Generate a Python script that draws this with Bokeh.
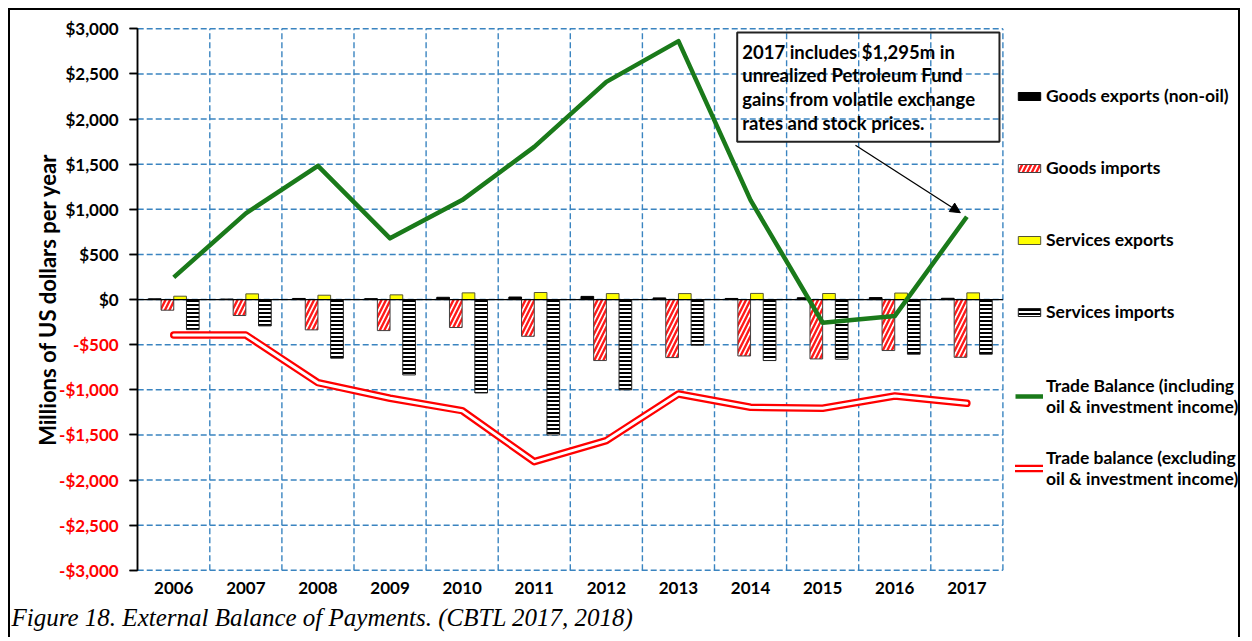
import numpy as np
from bokeh.plotting import figure
from bokeh.models import (ColumnDataSource, FixedTicker, Legend, LegendItem,
                          Label, Arrow, NormalHead, Range1d, LinearAxis)
from bokeh.transform import dodge
from bokeh.embed import file_html
from bokeh.resources import INLINE

# ---------------- data (millions of US$) ----------------
years = ["2006", "2007", "2008", "2009", "2010", "2011",
         "2012", "2013", "2014", "2015", "2016", "2017"]
goods_exports = [8, 5, 12, 10, 25, 28, 35, 18, 12, 20, 22, 14]
goods_imports = [-118, -177, -336, -344, -310, -407, -676, -643, -625, -658, -565, -640]
services_exports = [37, 63, 48, 52, 74, 78, 66, 66, 68, 67, 72, 74]
services_imports = [-333, -292, -650, -835, -1035, -1500, -1000, -506, -676, -661, -606, -606]
trade_incl = [246, 955, 1482, 678, 1102, 1692, 2412, 2863, 1102, -257, -183, 917]
trade_excl = [-393, -393, -921, -1094, -1231, -1796, -1563, -1046, -1194, -1205, -1068, -1150]
y_ticks = list(range(-3000, 3001, 500))

FONT = "Lato"
W, H = 1232, 629
idx = list(range(len(years)))
x0, x1 = -0.5, len(years) - 0.5          # category area
y0, y1 = y_ticks[0], y_ticks[-1]          # value area

# the frame covers the whole canvas; data area sits inside it
PX_X = 72.1                      # px per category
PX_Y = 541.5 / (y1 - y0)         # px per $m
LEFT, TOP = 127.2, 18.3          # data-area offset inside the canvas
xs = x0 - LEFT / PX_X
ys_top = y1 + TOP / PX_Y

src = ColumnDataSource(dict(x=idx, goods_exports=goods_exports, goods_imports=goods_imports,
                            services_exports=services_exports, services_imports=services_imports,
                            trade_incl=trade_incl, trade_excl=trade_excl))

p = figure(width=W, height=H, output_backend="svg", toolbar_location=None,
           x_range=Range1d(xs, xs + W / PX_X), y_range=Range1d(ys_top - H / PX_Y, ys_top),
           x_axis_location=None, y_axis_location=None,
           min_border_left=0, min_border_right=0, min_border_top=0, min_border_bottom=0)
p.styles = {"border-left": "2px solid black", "border-top": "2px solid black",
            "border-right": "2px solid black", "margin-left": "8px", "margin-top": "8px"}
p.outline_line_color = None
p.background_fill_color = "white"
p.border_fill_color = "white"
for g in p.grid:
    g.visible = False

# dashed grid, limited to the data area
GRID = dict(line_color="#3a84c0", line_dash="6 3", line_width=1.4, level="underlay")
vx = [i + 0.5 for i in idx]
p.segment(x0=vx, y0=[y0] * len(vx), x1=vx, y1=[y1] * len(vx), **GRID)
p.segment(x0=[x0] * len(y_ticks), y0=y_ticks, x1=[x1] * len(y_ticks), y1=y_ticks, **GRID)


def money(t):
    return ("-$" if t < 0 else "$") + f"{abs(t):,}"


def make_yaxis(color, keep):
    ax = LinearAxis(fixed_location=x0, bounds=(y0, y1))
    ax.ticker = FixedTicker(ticks=y_ticks)
    ax.axis_line_color = "black"
    ax.axis_line_width = 1.5
    ax.major_tick_line_color = "black"
    ax.major_tick_line_width = 1.5
    ax.major_tick_out = 8
    ax.major_tick_in = 0
    ax.minor_tick_line_color = None
    ax.major_label_standoff = 11
    ax.major_label_text_font = FONT
    ax.major_label_text_font_style = "bold"
    ax.major_label_text_font_size = "17px"
    ax.major_label_text_color = color
    ax.major_label_overrides = {t: (money(t) if keep(t) else "") for t in y_ticks}
    return ax


# positive labels black (with title), negative labels red, same position
ya = make_yaxis("black", lambda t: t >= 0)
ya.axis_label = "Millions of US dollars per year"
ya.axis_label_text_font = FONT
ya.axis_label_text_font_style = "bold"
ya.axis_label_text_font_size = "22px"
ya.axis_label_text_color = "black"
ya.axis_label_standoff = 1
yb = make_yaxis("#ff0000", lambda t: t < 0)
p.add_layout(ya, "left")
p.add_layout(yb, "left")

# x axis at the bottom of the value area
xa = LinearAxis(fixed_location=y0)
xa.ticker = FixedTicker(ticks=idx)
xa.major_label_overrides = {i: y for i, y in zip(idx, years)}
xa.axis_line_color = None
xa.major_tick_line_color = None
xa.minor_tick_line_color = None
xa.major_tick_out = 0
xa.major_tick_in = 0
xa.major_label_standoff = 12
xa.major_label_text_font = FONT
xa.major_label_text_font_style = "bold"
xa.major_label_text_font_size = "17px"
xa.major_label_text_color = "black"
p.add_layout(xa, "below")

# bars
w = 0.176
r_ge = p.vbar(x=dodge("x", -1.5 * w), top="goods_exports", width=w, source=src,
              fill_color="black", line_color="black", line_width=1)
r_gi = p.vbar(x=dodge("x", -0.5 * w), top="goods_imports", width=w, source=src,
              fill_color="white", line_color="#404040", line_width=1,
              hatch_pattern="/", hatch_color="#ff1a1a", hatch_weight=2.4, hatch_scale=9)
r_se = p.vbar(x=dodge("x", 0.5 * w), top="services_exports", width=w, source=src,
              fill_color="#ffff00", line_color="#555533", line_width=1)
r_si = p.vbar(x=dodge("x", 1.5 * w), top="services_imports", width=w, source=src,
              fill_color="white", line_color="#222222", line_width=1,
              hatch_pattern="-", hatch_color="black", hatch_weight=2, hatch_scale=4)

# zero line across the value area
p.segment(x0=[x0], y0=[0], x1=[x1], y1=[0], line_color="black", line_width=1.3)

# lines
r_tb = p.line("x", "trade_incl", source=src, line_color="#1a7a1a", line_width=4.5, line_join="round")
r_te_o = p.line("x", "trade_excl", source=src, line_color="#ff0000", line_width=7.5,
                line_join="round", line_cap="round")
r_te_i = p.line("x", "trade_excl", source=src, line_color="white", line_width=3,
                line_join="round", line_cap="round")

# legends (location = bottom-left corner, measured from the canvas bottom)
common = dict(padding=0, margin=0, border_line_color=None, background_fill_alpha=0,
              glyph_width=28, glyph_height=10, label_standoff=3, label_height=20,
              label_text_font=FONT, label_text_font_style="bold",
              label_text_font_size="17.5px", label_text_color="black")
leg1 = Legend(items=[LegendItem(label="Goods exports (non-oil)", renderers=[r_ge]),
                     LegendItem(label="Goods imports", renderers=[r_gi]),
                     LegendItem(label="Services exports", renderers=[r_se]),
                     LegendItem(label="Services imports", renderers=[r_si])],
              location=(1005, H - 312), spacing=51, **common)
leg2 = Legend(items=[LegendItem(label="Trade Balance (including\noil & investment income)", renderers=[r_tb]),
                     LegendItem(label="Trade balance (excluding\noil & investment income)",
                                renderers=[r_te_o, r_te_i])],
              location=(1005, H - 479), spacing=30, **common)
p.add_layout(leg1)
p.add_layout(leg2)

# annotation box and arrow
note_kw = dict(x=7.815, y=2959, text="2017 includes $1,295m in\nunrealized Petroleum Fund\n"
                                     "gains from volatile exchange\nrates and stock prices.",
               text_font=FONT, text_font_style="bold", text_font_size="18.5px", text_color="black",
               text_align="left", text_baseline="top", text_line_height=1.08,
               border_line_color="#222222", border_line_width=2, background_fill_color=None)
try:
    note = Label(padding=dict(left=5, right=24, top=8, bottom=8), **note_kw)
except Exception:
    note = Label(padding=7, **note_kw)
p.add_layout(note)
p.add_layout(Arrow(x_start=idx[-1] - 1.545, y_start=1710, x_end=idx[-1] - 0.09, y_end=trade_incl[-1] + 45,
                   line_color="black", line_width=1.3,
                   end=NormalHead(size=10, fill_color="black", line_color="black")))

# caption
p.add_layout(Label(x=1, y=H - 607, x_units="screen", y_units="screen",
                   text="Figure 18. External Balance of Payments. (CBTL 2017, 2018)",
                   text_font="Liberation Serif", text_font_style="italic", text_font_size="25px",
                   text_color="black", text_align="left", text_baseline="middle"))

open("out.html", "w").write(file_html(p, INLINE))
